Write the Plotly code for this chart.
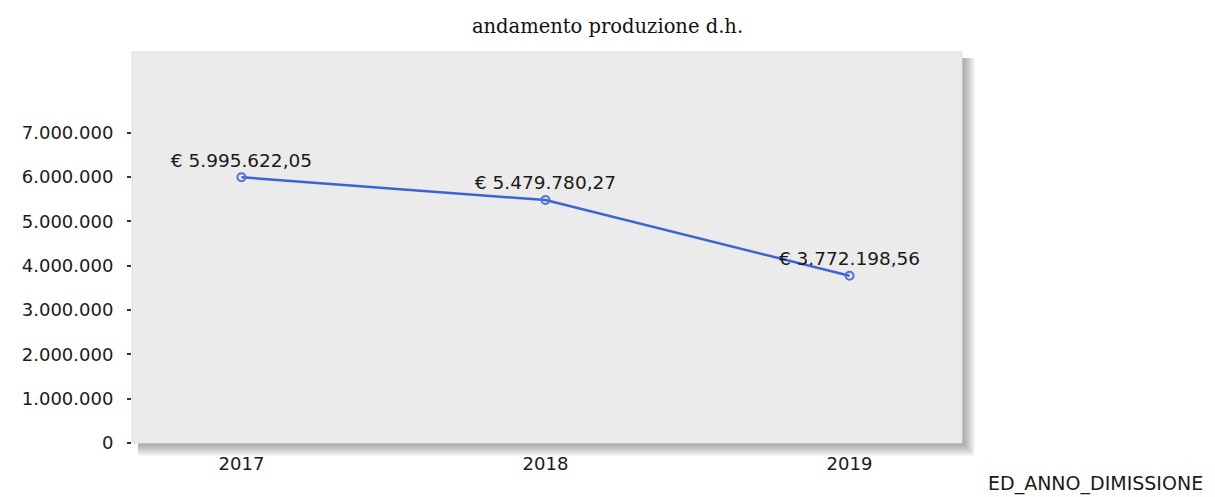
import plotly.graph_objects as go

# Production trend by discharge year
years = ["2017", "2018", "2019"]
production = [5995622.05, 5479780.27, 3772198.56]
y_ticks = [0, 1000000, 2000000, 3000000, 4000000, 5000000, 6000000, 7000000]


def euro(v):
    s = f"{v:,.2f}"
    s = s.replace(",", "X").replace(".", ",").replace("X", ".")
    return "€ " + s


labels = [euro(v) for v in production]
y_tick_text = [f"{v:,}".replace(",", ".") for v in y_ticks]

FONT = "DejaVu Sans"
TEXT_COLOR = "#1a1a1a"

# plot area geometry in pixels
LEFT, RIGHT, TOP, BOTTOM = 132, 962, 52, 443
PLOT_W = RIGHT - LEFT
PLOT_H = BOTTOM - TOP

fig = go.Figure()
fig.add_trace(go.Scatter(
    x=years,
    y=production,
    mode="lines+markers+text",
    text=labels,
    textposition="top center",
    textfont=dict(family=FONT, size=18.5, color=TEXT_COLOR),
    line=dict(color="#3b63d4", width=2.5),
    marker=dict(symbol="circle-open", size=8, color="#4a72dc", line=dict(width=2)),
    cliponaxis=False,
    hoverinfo="skip",
))

# soft drop shadow along the right and bottom edges of the plot area
px_x = 1.0 / PLOT_W
px_y = 1.0 / PLOT_H
depth_max = 13
for d in range(depth_max, 0, -1):
    alpha = 0.045
    fig.add_shape(type="rect", xref="paper", yref="paper", layer="below",
                  x0=1.0, x1=1.0 + d * px_x, y0=-d * px_y, y1=1.0 - 6 * px_y,
                  line=dict(width=0), fillcolor=f"rgba(60,60,60,{alpha})")
    fig.add_shape(type="rect", xref="paper", yref="paper", layer="below",
                  x0=6 * px_x, x1=1.0, y0=-d * px_y, y1=0,
                  line=dict(width=0), fillcolor=f"rgba(60,60,60,{alpha})")

# faint frame around the plot area
fig.add_shape(type="rect", xref="paper", yref="paper", layer="above",
              x0=0, x1=1, y0=0, y1=1, line=dict(width=1, color="#dedede"))

fig.add_annotation(
    text="ED_ANNO_DIMISSIONE",
    xref="paper", yref="paper", x=(1205 - LEFT) / PLOT_W, y=-(484 - BOTTOM) / PLOT_H,
    xanchor="right", yanchor="middle", showarrow=False,
    font=dict(family=FONT, size=19, color=TEXT_COLOR),
)

fig.update_layout(
    width=1215,
    height=497,
    margin=dict(l=LEFT, r=1215 - RIGHT, t=TOP, b=497 - BOTTOM),
    paper_bgcolor="white",
    plot_bgcolor="#ebebeb",
    showlegend=False,
    title=dict(
        text="andamento produzione d.h.",
        x=0.5, xref="container", xanchor="center",
        y=1 - 26 / 497, yref="container", yanchor="middle",
        font=dict(family="DejaVu Serif", size=19.5, color="#111111"),
    ),
    xaxis=dict(
        type="category",
        range=[-0.36, 2.37],
        showgrid=False, zeroline=False, showline=False,
        ticks="", ticklabelstandoff=8,
        tickfont=dict(family=FONT, size=18, color=TEXT_COLOR),
        fixedrange=True,
    ),
    yaxis=dict(
        range=[0, 8820000],
        tickvals=y_ticks,
        ticktext=y_tick_text,
        showgrid=False, zeroline=False, showline=False,
        ticks="outside", ticklen=4, tickwidth=1.5, tickcolor="#333333",
        ticklabelstandoff=10,
        tickfont=dict(family=FONT, size=18, color=TEXT_COLOR),
        fixedrange=True,
    ),
)

fig.write_html("out.html")
